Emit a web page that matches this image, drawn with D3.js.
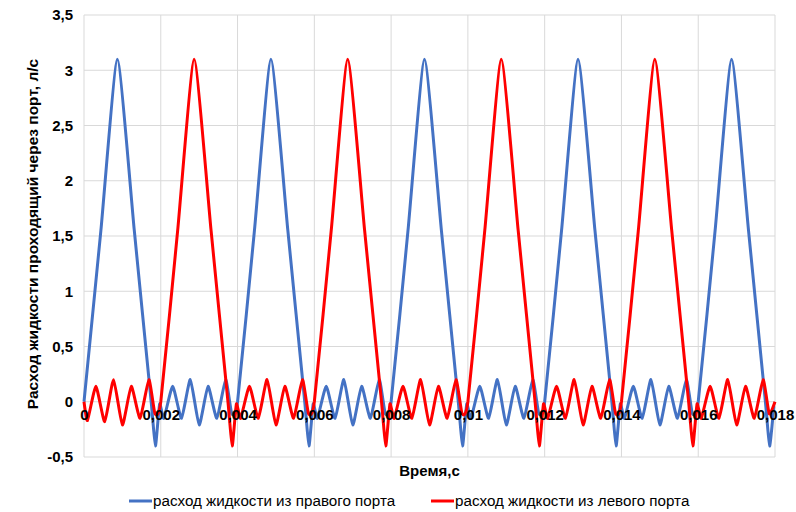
<!DOCTYPE html>
<html>
<head>
<meta charset="utf-8">
<script src="https://cdn.jsdelivr.net/npm/d3@7"></script>
<style>
  body { margin: 0; background: #fff; }
  svg text { font-family: Arial, "Liberation Sans", sans-serif; fill: #000; }
</style>
</head>
<body>
<svg id="chart"></svg>
<script>
// axis ticks
const xTicks = [0, 2, 4, 6, 8, 10, 12, 14, 16, 18]; // ms
const xTickLabels = ['0', '0,002', '0,004', '0,006', '0,008', '0,01', '0,012', '0,014', '0,016', '0,018'];
const yTicks = [-0.5, 0, 0.5, 1, 1.5, 2, 2.5, 3, 3.5];
const yTickLabels = ['-0,5', '0', '0,5', '1', '1,5', '2', '2,5', '3', '3,5'];

const seriesNames = ['расход жидкости из правого порта', 'расход жидкости из левого порта'];

// right port (blue), time in ms
const rightTime = [
  0, 0.44, 0.87, 1.31, 1.75, 1.86, 1.97, 2.08, 2.31, 2.54, 2.77, 3.00, 3.23, 3.46, 3.69, 3.85,
  4, 4.44, 4.87, 5.31, 5.75, 5.86, 5.97, 6.08, 6.31, 6.54, 6.77, 7.00, 7.23, 7.46, 7.69, 7.85,
  8, 8.44, 8.87, 9.31, 9.75, 9.86, 9.97, 10.08, 10.31, 10.54, 10.77, 11.00, 11.23, 11.46, 11.69, 11.85,
  12, 12.44, 12.87, 13.31, 13.75, 13.86, 13.97, 14.08, 14.31, 14.54, 14.77, 15.00, 15.23, 15.46, 15.69, 15.85,
  16, 16.44, 16.87, 17.31, 17.75, 17.86, 17.97
];
const rightFlow = [
  0, 1.55, 3.10, 1.55, 0, -0.40, -0.02, -0.15, 0.14, -0.15, 0.20, -0.21, 0.14, -0.15, 0.20, -0.11,
  0, 1.55, 3.10, 1.55, 0, -0.40, -0.02, -0.15, 0.14, -0.15, 0.20, -0.21, 0.14, -0.15, 0.20, -0.11,
  0, 1.55, 3.10, 1.55, 0, -0.40, -0.02, -0.15, 0.14, -0.15, 0.20, -0.21, 0.14, -0.15, 0.20, -0.11,
  0, 1.55, 3.10, 1.55, 0, -0.40, -0.02, -0.15, 0.14, -0.15, 0.20, -0.21, 0.14, -0.15, 0.20, -0.11,
  0, 1.55, 3.10, 1.55, 0, -0.40, -0.04
];

// left port (red), time in ms
const leftTime = [
  0, 0.09, 0.31, 0.54, 0.77, 1.00, 1.23, 1.46, 1.69, 1.85,
  2, 2.44, 2.87, 3.31, 3.75, 3.86, 3.97, 4.08, 4.31, 4.54, 4.77, 5.00, 5.23, 5.46, 5.69, 5.85,
  6, 6.44, 6.87, 7.31, 7.75, 7.86, 7.97, 8.08, 8.31, 8.54, 8.77, 9.00, 9.23, 9.46, 9.69, 9.85,
  10, 10.44, 10.87, 11.31, 11.75, 11.86, 11.97, 12.08, 12.31, 12.54, 12.77, 13.00, 13.23, 13.46, 13.69, 13.85,
  14, 14.44, 14.87, 15.31, 15.75, 15.86, 15.97, 16.08, 16.31, 16.54, 16.77, 17.00, 17.23, 17.46, 17.69, 17.85, 18
];
const leftFlow = [
  0, -0.17, 0.14, -0.18, 0.20, -0.21, 0.14, -0.15, 0.20, -0.11,
  0, 1.55, 3.10, 1.55, 0, -0.40, -0.02, -0.15, 0.14, -0.15, 0.20, -0.21, 0.14, -0.15, 0.20, -0.11,
  0, 1.55, 3.10, 1.55, 0, -0.40, -0.02, -0.15, 0.14, -0.15, 0.20, -0.21, 0.14, -0.15, 0.20, -0.11,
  0, 1.55, 3.10, 1.55, 0, -0.40, -0.02, -0.15, 0.14, -0.15, 0.20, -0.21, 0.14, -0.15, 0.20, -0.11,
  0, 1.55, 3.10, 1.55, 0, -0.40, -0.02, -0.15, 0.14, -0.15, 0.20, -0.21, 0.14, -0.15, 0.20, -0.11, 0
];

class FlowChart {

  constructor(_config, _series) {
    this.config = {
      parentElement: _config.parentElement,
      containerWidth: _config.containerWidth || 796,
      containerHeight: _config.containerHeight || 512,
      margin: {top: 15, right: 21, bottom: 55, left: 84}
    };
    this.series = _series;
    this.initVis();
  }

  initVis() {
    let vis = this;

    vis.width = vis.config.containerWidth - vis.config.margin.left - vis.config.margin.right;
    vis.height = vis.config.containerHeight - vis.config.margin.top - vis.config.margin.bottom;

    vis.svg = d3.select(vis.config.parentElement)
      .attr('width', vis.config.containerWidth)
      .attr('height', vis.config.containerHeight);

    vis.chart = vis.svg.append('g')
      .attr('transform', `translate(${vis.config.margin.left},${vis.config.margin.top})`);

    vis.xScale = d3.scaleLinear().domain([0, 18]).range([0, vis.width]);
    vis.yScale = d3.scaleLinear().domain([-0.5, 3.5]).range([vis.height, 0]);

    // gridlines - vertical ones go all the way, axis line sits on y=0
    vis.chart.append('g').selectAll('line.vgrid')
      .data(xTicks)
      .join('line')
      .attr('x1', d => vis.xScale(d)).attr('x2', d => vis.xScale(d))
      .attr('y1', 0).attr('y2', vis.height)
      .attr('stroke', '#d9d9d9').attr('stroke-width', 1);

    vis.chart.append('g').selectAll('line.hgrid')
      .data(yTicks)
      .join('line')
      .attr('x1', 0).attr('x2', vis.width)
      .attr('y1', d => vis.yScale(d)).attr('y2', d => vis.yScale(d))
      .attr('stroke', '#d9d9d9').attr('stroke-width', 1);

    // y tick labels
    vis.yAxis = d3.axisLeft(vis.yScale)
      .tickValues(yTicks)
      .tickFormat((d, i) => yTickLabels[i])
      .tickSize(0)
      .tickPadding(11);

    vis.yAxisGroup = vis.chart.append('g').call(vis.yAxis);
    vis.yAxisGroup.select('.domain').remove();
    vis.yAxisGroup.selectAll('text')
      .attr('font-size', 15).attr('font-weight', 'bold')
      .attr('font-family', 'Arial, "Liberation Sans", sans-serif');

    vis.updateVis();

    // x tick labels, axis crosses at 0
    vis.xAxis = d3.axisBottom(vis.xScale)
      .tickValues(xTicks)
      .tickFormat((d, i) => xTickLabels[i])
      .tickSize(0)
      .tickPadding(8);

    vis.xAxisGroup = vis.chart.append('g')
      .attr('transform', `translate(0,${vis.yScale(0)})`)
      .call(vis.xAxis);
    vis.xAxisGroup.select('.domain').remove();
    vis.xAxisGroup.selectAll('text')
      .attr('font-size', 15).attr('font-weight', 'bold')
      .attr('font-family', 'Arial, "Liberation Sans", sans-serif');

    // titles
    vis.svg.append('text')
      .attr('x', vis.config.margin.left + vis.width / 2)
      .attr('y', 476)
      .attr('text-anchor', 'middle')
      .attr('font-size', 15).attr('font-weight', 'bold')
      .text('Время,с');

    vis.svg.append('text')
      .attr('transform', `translate(38,${vis.config.margin.top + vis.height / 2 - 2}) rotate(-90)`)
      .attr('text-anchor', 'middle')
      .attr('font-size', 15.5).attr('font-weight', 'bold')
      .text('Расход жидкости проходящий через порт, л/с');

    // legend
    let legendX = [129, 431];
    let legend = vis.svg.append('g').selectAll('g')
      .data(vis.series)
      .join('g')
      .attr('transform', (d, i) => `translate(${legendX[i]},501)`);

    legend.append('line')
      .attr('x1', 0).attr('x2', 23)
      .attr('stroke', d => d.color).attr('stroke-width', 3);

    legend.append('text')
      .attr('x', 24).attr('dy', '0.35em')
      .attr('font-size', 15.2)
      .text(d => d.name);
  }

  updateVis() {
    let vis = this;

    // tight cardinal spline: near-straight edges, slightly rounded tips like the excel smoothing
    let line = d3.line()
      .x(d => vis.xScale(d[0]))
      .y(d => vis.yScale(d[1]))
      .curve(d3.curveCardinal.tension(0.5));

    vis.chart.selectAll('path.series')
      .data(vis.series)
      .join('path')
      .attr('class', 'series')
      .attr('d', d => line(d.values))
      .attr('fill', 'none')
      .attr('stroke', d => d.color)
      .attr('stroke-width', 3)
      .attr('stroke-linejoin', 'round');
  }
}

let series = [
  {name: seriesNames[0], color: '#4472c4', values: rightTime.map((t, i) => [t, rightFlow[i]])},
  {name: seriesNames[1], color: '#ff0000', values: leftTime.map((t, i) => [t, leftFlow[i]])}
];

let chart = new FlowChart({parentElement: '#chart'}, series);
</script>
</body>
</html>
